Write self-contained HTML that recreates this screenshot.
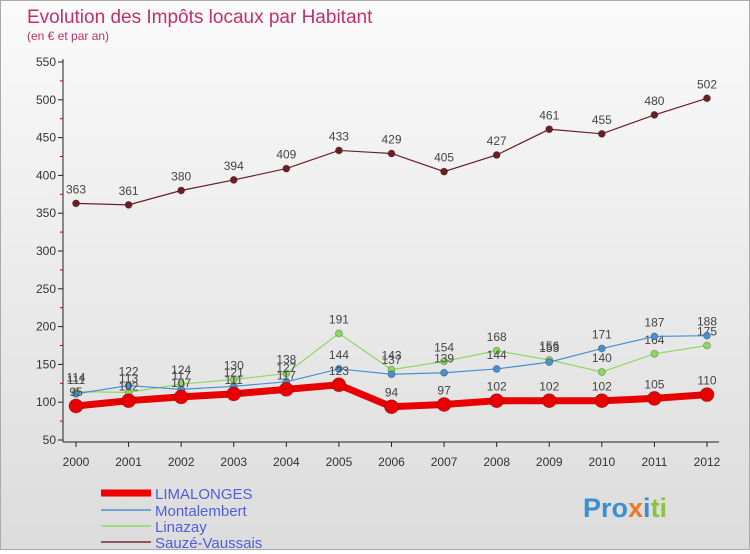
<!DOCTYPE html>
<html><head><meta charset="utf-8"><style>
body{margin:0;width:750px;height:550px;overflow:hidden;font-family:"Liberation Sans",sans-serif}
#wrap{position:relative;width:748px;height:548px;border:1px solid #aaa;background:linear-gradient(#fafafa,#dcdcdc)}
</style></head><body>
<div id="wrap">
<svg id="c" width="748" height="548" xmlns="http://www.w3.org/2000/svg" font-family="Liberation Sans, sans-serif">
<text x="26" y="22" font-size="19" fill="#c0306a">Evolution des Impôts locaux par Habitant</text>
<text x="26" y="39" font-size="12" fill="#c0306a">(en € et par an)</text>
<g id="axes"></g><g id="series"></g>
<g>
<line x1="100" y1="492" x2="150" y2="492" stroke="#e00" stroke-width="7"/>
<text x="154" y="498" font-size="15" fill="#4f5fd8">LIMALONGES</text>
<line x1="100" y1="509" x2="150" y2="509" stroke="#4a90d0" stroke-width="1.5"/>
<text x="154" y="515" font-size="15" fill="#4f5fd8">Montalembert</text>
<line x1="100" y1="525" x2="150" y2="525" stroke="#8fd860" stroke-width="1.5"/>
<text x="154" y="531" font-size="15" fill="#4f5fd8">Linazay</text>
<line x1="100" y1="541" x2="150" y2="541" stroke="#7a2a30" stroke-width="1.5"/>
<text x="154" y="547" font-size="15" fill="#4f5fd8">Sauzé-Vaussais</text>
</g>
<text x="582" y="516" font-size="27" font-weight="bold"><tspan fill="#3a8fd0">Pro</tspan><tspan fill="#e87a20">x</tspan><tspan fill="#3a8fd0">i</tspan><tspan fill="#8cc43c">ti</tspan></text>
</svg>
</div>
<script>
const years=[2000,2001,2002,2003,2004,2005,2006,2007,2008,2009,2010,2011,2012];
const yTicks=[50,100,150,200,250,300,350,400,450,500,550];
const limalonges=[95,102,107,111,117,123,94,97,102,102,102,105,110];
const montalembert=[111,122,117,121,127,144,137,139,144,153,171,187,188];
const linazay=[114,113,124,130,138,191,143,154,168,156,140,164,175];
const sauze=[363,361,380,394,409,433,429,405,427,461,455,480,502];
const NS="http://www.w3.org/2000/svg";
const X=i=>75+i*(706-75)/(years.length-1);
const Y=v=>439-(v-50)*(378/500);
function mk(tag,attrs,parent){const e=document.createElementNS(NS,tag);for(const k in attrs)e.setAttribute(k,attrs[k]);parent.appendChild(e);return e;}
const ax=document.getElementById('axes');
let a=mk('line',{x1:62,y1:58,x2:62,y2:441,stroke:'#222'},ax);


a=mk('line',{x1:62,y1:441,x2:718,y2:441,stroke:'#222'},ax);


yTicks.forEach((v,i)=>{
 mk('line',{x1:57,y1:Y(v),x2:62,y2:Y(v),stroke:'#222'},ax);
 if(i<yTicks.length-1) mk('line',{x1:59,y1:Y(v+25),x2:62,y2:Y(v+25),stroke:'#c00'},ax);
 const t=mk('text',{x:55,y:Y(v)+4,'font-size':12,'text-anchor':'end',fill:'#333'},ax);t.textContent=v;
 
 
});
years.forEach((y,i)=>{
 mk('line',{x1:X(i),y1:441,x2:X(i),y2:446,stroke:'#222'},ax);
 const t=mk('text',{x:X(i),y:465,'font-size':12,'text-anchor':'middle',fill:'#333'},ax);t.textContent=y;
 
 
});
const sg=document.getElementById('series');
function draw(name,data,color,w,r){
 const g=mk('g',{},sg);
 
 
 const p=mk('polyline',{points:data.map((v,i)=>X(i)+','+Y(v)).join(' '),fill:'none',stroke:color,'stroke-width':w},g);
 
 
 data.forEach((v,i)=>{
  const c=mk('circle',{cx:X(i),cy:Y(v),r:r,fill:color,stroke:'rgba(0,0,0,0.3)','stroke-width':0.8},g);
  
  
  const t=mk('text',{x:X(i),y:Y(v)-10,'font-size':12,'text-anchor':'middle',fill:'#444'},g);t.textContent=v;
  
  
 });
}
draw('sauze-vaussais',sauze,'#6a1e26',1.2,3.5);
draw('linazay',linazay,'#8fd860',1.2,3.5);
draw('montalembert',montalembert,'#4a90d0',1.2,3.5);
draw('limalonges',limalonges,'#e80000',7,7);
</script>
</body></html>
